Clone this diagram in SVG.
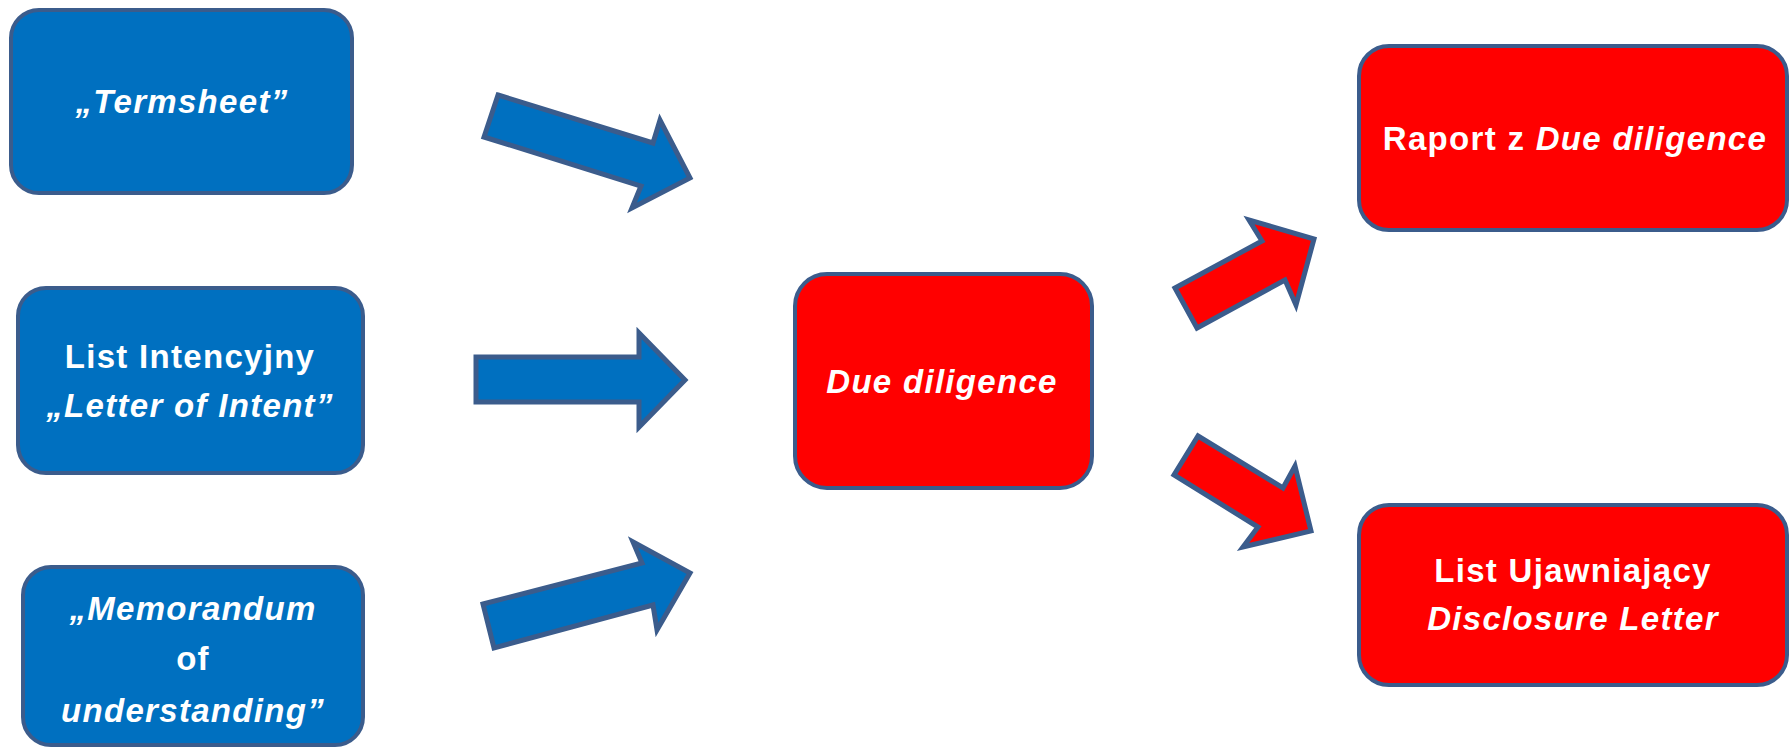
<svg xmlns="http://www.w3.org/2000/svg" width="1789" height="748" viewBox="0 0 1789 748">
<style>
.blue{fill:#0070C0;stroke:#3B5C8C;stroke-width:4;stroke-linejoin:round}
.red{fill:#FF0000;stroke:#3B5C8C;stroke-width:4;stroke-linejoin:round}
.arr{stroke:#3B5C8C;stroke-width:5;stroke-linejoin:miter}
.t{font-family:"Liberation Sans",Arial,sans-serif;font-weight:bold;font-size:33px;letter-spacing:1.3px;fill:#FFFFFF;text-anchor:middle}
.i{font-style:italic}
</style>
<rect width="1789" height="748" fill="#FFFFFF"/>
<g id="node-termsheet">
<rect class="blue" x="11" y="10" width="341" height="183" rx="28"/>
<text class="t i" x="182" y="113">„Termsheet”</text>
</g>
<g id="node-loi">
<rect class="blue" x="18" y="288" width="345" height="185" rx="28"/>
<text class="t" x="190" y="368">List Intencyjny</text>
<text class="t i" x="190" y="417">„Letter of Intent”</text>
</g>
<g id="node-mou">
<rect class="blue" x="23" y="567" width="340" height="178" rx="28"/>
<text class="t i" x="193" y="620">„Memorandum</text>
<text class="t" x="193" y="670">of</text>
<text class="t i" x="193" y="722">understanding”</text>
</g>
<g id="node-dd">
<rect class="red" x="795" y="274" width="297" height="214" rx="32"/>
<text class="t i" x="942" y="393">Due diligence</text>
</g>
<g id="node-raport">
<rect class="red" x="1359" y="46" width="428" height="184" rx="30"/>
<text class="t" x="1575" y="150">Raport z <tspan class="i">Due diligence</tspan></text>
</g>
<g id="node-disclosure">
<rect class="red" x="1359" y="505" width="428" height="180" rx="30"/>
<text class="t" x="1573" y="582">List Ujawniający</text>
<text class="t i" x="1573" y="630">Disclosure Letter</text>
</g>
<g id="connectors">
<polygon class="arr" fill="#0070C0" points="498,95 653,143 660,120 690,178 632,208 641,186 484,137"/>
<polygon class="arr" fill="#0070C0" points="476,357 639,357 639,333 685,380 639,427 639,402 476,402"/>
<polygon class="arr" fill="#0070C0" points="483,604 642,563 633,542 690,573 657,630 653,605 494,648"/>
<polygon class="arr" fill="#FF0000" points="1175,288 1262,241 1249,220 1314,239 1296,305 1285,280 1197,328"/>
<polygon class="arr" fill="#FF0000" points="1198,436 1283,488 1295,466 1311,531 1243,547 1258,527 1174,475"/>
</g>
</svg>
